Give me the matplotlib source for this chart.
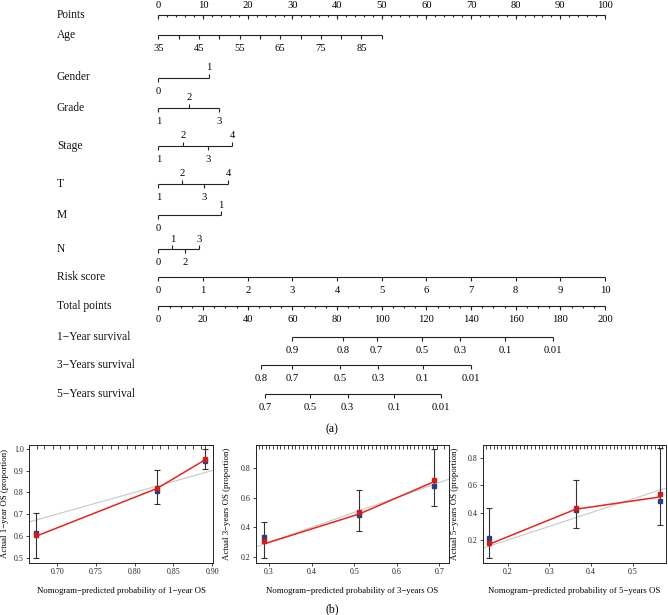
import matplotlib
matplotlib.use("Agg")
import matplotlib.pyplot as plt
import numpy as np

plt.rcParams['font.family'] = ['Liberation Serif', 'DejaVu Serif']

# ---------------- nomogram data ----------------
row_names = ["Points", "Age", "Gender", "Grade", "Stage", "T", "M", "N",
             "Risk score", "Total points", "1\u2212Year survival",
             "3\u2212Years survival", "5\u2212Years survival"]

points_major = [0, 10, 20, 30, 40, 50, 60, 70, 80, 90, 100]
points_minor = list(range(0, 101, 2))

age_ticks = [35, 40, 45, 50, 55, 60, 65, 70, 75, 80, 85, 90]
age_labels = [35, 45, 55, 65, 75, 85]
age_max_points = 50  # age 90 -> 50 points

gender_levels = ["0", "1"]
gender_points = [0, 11.3]
gender_side = ["below", "above"]

grade_levels = ["1", "2", "3"]
grade_points = [0, 6.9, 13.5]
grade_side = ["below", "above", "below"]

stage_levels = ["1", "2", "3", "4"]
stage_points = [0, 5.5, 11.0, 16.5]
stage_side = ["below", "above", "below", "above"]

t_levels = ["1", "2", "3", "4"]
t_points = [0, 5.2, 10.3, 15.6]
t_side = ["below", "above", "below", "above"]

m_levels = ["0", "1"]
m_points = [0, 13.9]
m_side = ["below", "above"]

n_levels = ["0", "1", "2", "3"]
n_points = [0, 3.1, 6.0, 9.1]
n_side = ["below", "above", "below", "above"]

risk_ticks = [0, 1, 2, 3, 4, 5, 6, 7, 8, 9, 10]
risk_max_points = 100

total_major = [0, 20, 40, 60, 80, 100, 120, 140, 160, 180, 200]
total_minor = list(range(0, 201, 5))
total_max = 200

surv1_probs = ["0.9", "0.8", "0.7", "0.5", "0.3", "0.1", "0.01"]
surv1_total = [60.0, 82.6, 97.7, 118.2, 135.0, 155.2, 176.7]
surv3_probs = ["0.8", "0.7", "0.5", "0.3", "0.1", "0.01"]
surv3_total = [45.9, 59.8, 81.3, 98.3, 118.3, 139.8]
surv5_probs = ["0.7", "0.5", "0.3", "0.1", "0.01"]
surv5_total = [47.7, 67.9, 84.7, 105.5, 126.4]

# ---------------- calibration data ----------------
cal1_pred = [0.672, 0.829, 0.891]
cal1_line = [0.597, 0.818, 0.950]
cal1_obs = [0.603, 0.822, 0.951]
cal1_corr = [0.615, 0.808, 0.942]
cal1_lo = [0.500, 0.746, 0.909]
cal1_hi = [0.706, 0.904, 1.000]
cal1_rug = [0.674, 0.683, 0.694, 0.704, 0.715, 0.726, 0.737, 0.747, 0.758,
            0.769, 0.779, 0.790, 0.801, 0.811, 0.822, 0.833, 0.843, 0.854,
            0.865, 0.875, 0.886, 0.891]

cal2_pred = [0.289, 0.512, 0.687]
cal2_line = [0.290, 0.490, 0.705]
cal2_obs = [0.307, 0.500, 0.720]
cal2_corr = [0.334, 0.480, 0.674]
cal2_lo = [0.196, 0.375, 0.542]
cal2_hi = [0.435, 0.648, 0.925]
cal2_rug = [0.276, 0.284, 0.292, 0.300, 0.309, 0.318, 0.327, 0.335, 0.344,
            0.353, 0.362, 0.371, 0.380, 0.389, 0.398, 0.407, 0.416, 0.425,
            0.434, 0.443, 0.452, 0.461, 0.470, 0.479, 0.488, 0.497, 0.506,
            0.515, 0.524, 0.533, 0.542, 0.551, 0.560, 0.569, 0.578, 0.587,
            0.596, 0.605, 0.614, 0.623, 0.632, 0.641, 0.650, 0.659, 0.668,
            0.677, 0.686, 0.695, 0.712]

cal3_pred = [0.156, 0.363, 0.566]
cal3_line = [0.170, 0.425, 0.515]
cal3_obs = [0.178, 0.436, 0.533]
cal3_corr = [0.215, 0.420, 0.484]
cal3_lo = [0.068, 0.288, 0.310]
cal3_hi = [0.432, 0.636, 0.869]
cal3_rug = [0.148, 0.157, 0.166, 0.175, 0.184, 0.193, 0.202, 0.211, 0.220,
            0.229, 0.238, 0.247, 0.256, 0.265, 0.274, 0.283, 0.292, 0.301,
            0.310, 0.319, 0.328, 0.337, 0.346, 0.355, 0.364, 0.373, 0.382,
            0.391, 0.400, 0.409, 0.418, 0.427, 0.436, 0.445, 0.454, 0.463,
            0.472, 0.481, 0.490, 0.499, 0.508, 0.517, 0.526, 0.535, 0.544,
            0.553, 0.562, 0.570]

# ---------------- figure ----------------
W, H = 668, 615
fig = plt.figure(figsize=(W / 100, H / 100), dpi=100)
fig.patch.set_facecolor("white")

px0, pxscale = 158.5, 4.465  # pixel of 0 points, pixels per point
ax = fig.add_axes([0, 0, 1, 1])
ax.set_xlim(-px0 / pxscale, (W - px0) / pxscale)
ax.set_ylim(H, 0)
ax.axis("off")

row_y = [15, 35, 77.5, 108, 146, 184, 215, 249, 277, 306, 337, 365, 394]
label_x = (57 - px0) / pxscale
LC = "#222222"
LW = 0.8
TFS = 7.6
RFS = 8.3

for name, y in zip(row_names, row_y):
    ax.text(label_x, y, name, ha="left", va="center", fontsize=RFS, color="#111111")


def draw_scale(y, pos, labels, sides, tick_dir=None, minor=None,
               major_len=4.0, minor_len=2.2):
    ax.plot([min(pos), max(pos)], [y, y], color=LC, lw=LW,
            solid_capstyle="butt")
    if minor is not None:
        ax.vlines(minor, y, y + minor_len, color=LC, lw=LW)
    for p, lab, s in zip(pos, labels, sides):
        d = tick_dir if tick_dir is not None else s
        if d == "above":
            ax.vlines(p, y - major_len, y, color=LC, lw=LW)
        else:
            ax.vlines(p, y, y + major_len, color=LC, lw=LW)
        if lab == "":
            continue
        if s == "above":
            ax.text(p, y - 7.5, lab, ha="center", va="baseline", fontsize=TFS)
        else:
            ax.text(p, y + 16, lab, ha="center", va="baseline", fontsize=TFS)


# Points
draw_scale(row_y[0], points_major, [str(v) for v in points_major],
           ["above"] * len(points_major), tick_dir="below",
           minor=points_minor)
# Age
age_pos = [(a - age_ticks[0]) / (age_ticks[-1] - age_ticks[0]) * age_max_points
           for a in age_ticks]
age_lab = [str(a) if a in age_labels else "" for a in age_ticks]
draw_scale(row_y[1], age_pos, age_lab, ["below"] * len(age_ticks))
# categorical rows
draw_scale(row_y[2], gender_points, gender_levels, gender_side)
draw_scale(row_y[3], grade_points, grade_levels, grade_side)
draw_scale(row_y[4], stage_points, stage_levels, stage_side)
draw_scale(row_y[5], t_points, t_levels, t_side)
draw_scale(row_y[6], m_points, m_levels, m_side)
draw_scale(row_y[7], n_points, n_levels, n_side)
# Risk score
risk_pos = [r / risk_ticks[-1] * risk_max_points for r in risk_ticks]
draw_scale(row_y[8], risk_pos, [str(r) for r in risk_ticks],
           ["below"] * len(risk_ticks))
# Total points
tscale = 100 / total_max
draw_scale(row_y[9], [t * tscale for t in total_major],
           [str(t) for t in total_major], ["below"] * len(total_major),
           minor=[t * tscale for t in total_minor])
# Survival rows
draw_scale(row_y[10], [t * tscale for t in surv1_total], surv1_probs,
           ["below"] * len(surv1_probs))
draw_scale(row_y[11], [t * tscale for t in surv3_total], surv3_probs,
           ["below"] * len(surv3_probs))
draw_scale(row_y[12], [t * tscale for t in surv5_total], surv5_probs,
           ["below"] * len(surv5_probs))

fig.text(332 / W, 1 - 429 / H, "(a)", ha="center", va="center", fontsize=8.5)
fig.text(332 / W, 1 - 609 / H, "(b)", ha="center", va="center", fontsize=8.5)

# ---------------- calibration panels ----------------
panels = [
    dict(box=(29.3, 213.0), xlim=(0.664, 0.901), ylim=(0.477, 1.02),
         xticks=[0.70, 0.75, 0.80, 0.85, 0.90],
         xtl=["0.70", "0.75", "0.80", "0.85", "0.90"],
         yticks=[0.5, 0.6, 0.7, 0.8, 0.9, 1.0],
         ytl=["0.5", "0.6", "0.7", "0.8", "0.9", "1.0"],
         pred=cal1_pred, line=cal1_line, obs=cal1_obs, corr=cal1_corr,
         lo=cal1_lo, hi=cal1_hi, rug=cal1_rug, ylx=5,
         ylabel="Actual 1\u2212year OS (proportion)",
         xlabel="Nomogram\u2212predicted probability of 1\u2212year OS"),
    dict(box=(256.0, 449.0), xlim=(0.2695, 0.7228), ylim=(0.165, 0.955),
         xticks=[0.3, 0.4, 0.5, 0.6, 0.7],
         xtl=["0.3", "0.4", "0.5", "0.6", "0.7"],
         yticks=[0.2, 0.4, 0.6, 0.8], ytl=["0.2", "0.4", "0.6", "0.8"],
         pred=cal2_pred, line=cal2_line, obs=cal2_obs, corr=cal2_corr,
         lo=cal2_lo, hi=cal2_hi, rug=cal2_rug, ylx=227.3,
         ylabel="Actual 3\u2212years OS (proportion)",
         xlabel="Nomogram\u2212predicted probability of 3\u2212years OS"),
    dict(box=(482.7, 666.0), xlim=(0.14, 0.58), ylim=(0.036, 0.898),
         xticks=[0.2, 0.3, 0.4, 0.5], xtl=["0.2", "0.3", "0.4", "0.5"],
         yticks=[0.2, 0.4, 0.6, 0.8], ytl=["0.2", "0.4", "0.6", "0.8"],
         pred=cal3_pred, line=cal3_line, obs=cal3_obs, corr=cal3_corr,
         lo=cal3_lo, hi=cal3_hi, rug=cal3_rug, ylx=455.0,
         ylabel="Actual 5\u2212years OS (proportion)",
         xlabel="Nomogram\u2212predicted probability of 5\u2212years OS"),
]

top_px, bot_px = 444.5, 562.5
for p in panels:
    l, r = p["box"]
    cax = fig.add_axes([l / W, 1 - bot_px / H, (r - l) / W, (bot_px - top_px) / H])
    cax.set_xlim(*p["xlim"])
    cax.set_ylim(*p["ylim"])
    for s in cax.spines.values():
        s.set_linewidth(0.7)
        s.set_color("#222222")
    # ideal line
    cax.plot(p["xlim"], p["xlim"], color="#c8c8c8", lw=0.8, zorder=1)
    # rug
    hpx = bot_px - top_px
    cax.vlines(p["rug"], 1 - 4.0 / hpx, 1, transform=cax.get_xaxis_transform(),
               color="#222222", lw=0.6, zorder=2)
    # error bars
    mids = [(a + b) / 2 for a, b in zip(p["lo"], p["hi"])]
    cax.errorbar(p["pred"], mids,
                 yerr=[[m - a for m, a in zip(mids, p["lo"])],
                       [b - m for m, b in zip(mids, p["hi"])]],
                 fmt="none", ecolor="#333333", elinewidth=0.8, capsize=2.0,
                 capthick=0.8, zorder=3)
    cax.plot(p["pred"], p["line"], color="#e8231f", lw=1.1, zorder=4)
    cax.plot(p["pred"], p["corr"], ls="none", marker="s", ms=2.2,
             color="#2b3f7a", zorder=5)
    cax.plot(p["pred"], p["obs"], ls="none", marker="s", ms=2.2,
             color="#d01c1c", zorder=6)
    cax.set_xticks(p["xticks"])
    cax.set_xticklabels(p["xtl"])
    cax.set_yticks(p["yticks"])
    cax.set_yticklabels(p["ytl"])
    cax.tick_params(direction="out", length=2.5, width=0.6, pad=1.5,
                    labelsize=5.7, colors="#222222")
    cax.set_xlabel(p["xlabel"], fontsize=6.3, va="center")
    cax.xaxis.set_label_coords(0.5, -(590.7 - bot_px) / hpx)
    cax.set_ylabel(p["ylabel"], fontsize=6.3, va="center")
    cax.yaxis.set_label_coords((p["ylx"] - l) / (r - l), 0.5)

fig.savefig("out.png", dpi=100, facecolor="white")
